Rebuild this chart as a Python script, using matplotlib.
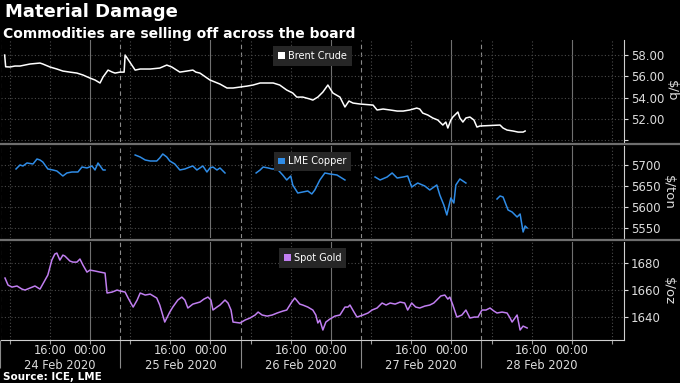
import numpy as np
import matplotlib
matplotlib.use("Agg")
import matplotlib.pyplot as plt
from matplotlib.lines import Line2D
from matplotlib.patches import Patch
import matplotlib.transforms as mtrans

# ---------------- data (hours since 24 Feb 2020 00:00) ----------------
brent_hours = [7.0, 7.2, 8.06, 9.06, 10.06, 12.05, 14.04, 14.6, 16.03, 17.4, 18.6, 20.0, 21.4,
               22.6, 24.0, 25.0, 26.0, 26.6, 27.6, 28.4, 29.0, 30.0, 30.8, 31.0, 33.0, 34.0,
               36.0, 37.9, 39.3, 40.3, 41.9, 43.3, 44.5, 45.1, 45.9, 47.9, 49.9, 51.3, 52.5,
               53.9, 55.3, 56.5, 57.9, 59.3, 60.5, 61.8, 63.2, 64.4, 65.2, 66.4, 67.8, 68.4,
               69.4, 70.4, 71.4, 72.4, 73.8, 74.8, 75.6, 76.4, 77.8, 80.4, 81.2, 82.4, 83.8,
               85.2, 86.4, 87.7, 89.1, 89.7, 90.3, 91.3, 92.3, 93.3, 94.3, 94.9, 95.3, 95.9,
               96.3, 96.9, 97.3, 97.7, 98.3, 98.9, 99.7, 100.5, 101.1, 101.7, 105.7, 106.3,
               107.1, 108.3, 109.3, 110.3, 110.7]
brent_price = [58.00, 56.90, 56.88, 56.97, 56.97, 57.16, 57.25, 57.16, 56.88, 56.69, 56.50, 56.40,
               56.31, 56.13, 55.84, 55.66, 55.38, 55.94, 56.59, 56.41, 56.31, 56.40, 56.40, 58.00,
               56.59, 56.69, 56.69, 56.78, 57.06, 56.88, 56.40, 56.50, 56.59, 56.40, 56.31, 55.66,
               55.28, 54.91, 54.91, 55.00, 55.09, 55.19, 55.38, 55.38, 55.38, 55.19, 54.72, 54.44,
               54.06, 54.06, 53.88, 53.78, 54.06, 54.53, 55.19, 54.44, 54.06, 53.13, 53.69, 53.50,
               53.41, 53.31, 52.85, 52.94, 52.85, 52.75, 52.75, 52.85, 53.03, 52.94, 52.56, 52.38,
               52.10, 51.91, 51.44, 51.72, 51.16, 51.91, 52.19, 52.47, 52.66, 52.10, 51.72, 52.10,
               52.19, 51.91, 51.25, 51.35, 51.44, 51.16, 50.97, 50.88, 50.78, 50.78, 50.88]

nan = float("nan")
copper_hours = [9.26, 10.06, 10.65, 11.45, 12.65, 13.44, 14.04, 14.6, 15.6, 16.6, 17.4, 18.6, 19.4,
                20.4, 21.6, 22.4, 23.4, 24.4, 25.0, 25.6, 26.6, 27.0, 30.0,
                33.0, 34.0, 35.0, 36.0, 37.3, 37.9, 38.5, 39.3, 39.9, 40.9, 41.9, 42.9, 43.9,
                44.5, 45.3, 45.9, 46.5, 47.3, 47.9, 48.5, 49.3, 49.9, 50.9, 54.0,
                57.1, 57.9, 58.5, 59.5, 60.3, 61.3, 62.4, 63.2, 64.0, 64.4, 65.4, 66.4, 67.4,
                68.2, 68.8, 69.8, 70.8, 71.8, 73.2, 74.8, 78.0,
                80.8, 81.8, 83.2, 84.2, 85.2, 86.4, 87.3, 88.1, 89.3, 90.7, 91.7, 93.1, 93.7,
                94.5, 95.1, 95.9, 96.5, 96.9, 97.7, 98.3, 98.9, 102.0,
                105.1, 105.7, 106.3, 107.3, 108.1, 109.1, 109.7, 110.3, 110.7, 111.1]
copper_price = [5690.5, 5700.0, 5697.6, 5704.8, 5702.4, 5714.3, 5711.9, 5707.1, 5690.5, 5688.1,
                5685.7, 5673.8, 5681.0, 5683.3, 5683.3, 5695.2, 5692.9, 5697.6, 5688.1, 5704.8,
                5688.1, 5688.1, nan,
                5723.8, 5719.0, 5711.9, 5709.5, 5709.5, 5716.7, 5726.2, 5719.0, 5709.5, 5702.4,
                5688.1, 5690.5, 5695.2, 5697.6, 5688.1, 5692.9, 5697.6, 5683.3, 5692.9, 5695.2,
                5688.1, 5692.9, 5681.0, nan,
                5681.0, 5688.1, 5695.2, 5692.9, 5690.5, 5690.5, 5676.2, 5664.3, 5673.8, 5652.4,
                5633.3, 5635.7, 5638.1, 5631.0, 5640.5, 5664.3, 5681.0, 5678.6, 5676.2, 5664.3, nan,
                5671.4, 5664.3, 5671.4, 5681.0, 5669.0, 5671.4, 5673.8, 5647.6, 5657.1, 5650.0,
                5640.5, 5652.4, 5628.6, 5604.8, 5581.0, 5621.4, 5609.5, 5652.4, 5666.7, 5661.9,
                5657.1, nan,
                5619.0, 5626.2, 5623.8, 5592.9, 5588.1, 5576.2, 5583.3, 5540.5, 5554.8, 5550.0]

gold_hours = [7.07, 7.67, 8.46, 9.46, 10.45, 11.05, 12.05, 13.04, 14.04, 15.04, 15.6, 16.4, 17.0,
              17.4, 18.0, 18.6, 19.0, 20.0, 20.6, 21.4, 22.0, 22.6, 23.4, 24.0, 25.0, 26.0, 27.0,
              27.4, 28.4, 29.4, 30.0, 31.0, 31.6, 32.6, 33.4, 34.0, 35.0, 36.0, 37.3, 37.9, 38.9,
              39.9, 40.5, 41.5, 42.3, 42.9, 43.5, 44.5, 45.9, 46.7, 47.5, 48.1, 48.5, 49.3, 49.9,
              50.9, 51.5, 52.1, 52.5, 53.9, 54.9, 55.9, 56.9, 57.5, 58.3, 59.3, 60.3, 61.3, 62.4,
              63.2, 64.2, 64.8, 65.8, 66.4, 67.4, 68.4, 69.0, 69.4, 69.8, 70.4, 71.0, 71.8, 72.8,
              73.8, 74.8, 75.4, 75.8, 76.6, 77.2, 78.4, 79.4, 80.2, 81.2, 82.2, 83.0, 83.8, 84.8,
              85.8, 86.7, 87.3, 88.1, 88.9, 89.7, 90.7, 91.7, 92.5, 93.1, 93.9, 94.7, 95.3, 95.7,
              96.3, 97.1, 98.1, 98.9, 99.7, 100.6, 101.3, 102.1, 102.9, 103.7, 104.5, 105.1, 106.1,
              107.1, 107.7, 108.1, 109.1, 109.7, 110.3, 111.1]
gold_price = [1668.9, 1663.7, 1662.2, 1663.0, 1660.7, 1660.0, 1661.5, 1663.0, 1660.7, 1667.4, 1671.1,
              1682.2, 1686.7, 1687.4, 1682.2, 1685.9, 1685.2, 1681.5, 1680.7, 1680.7, 1683.0, 1678.5,
              1673.3, 1674.8, 1674.1, 1673.3, 1672.6, 1657.8, 1658.5, 1660.0, 1659.3, 1658.5, 1654.1,
              1647.4, 1652.6, 1657.8, 1656.3, 1657.0, 1654.1, 1648.9, 1636.3, 1643.7, 1647.4, 1652.6,
              1654.8, 1652.6, 1646.7, 1649.6, 1651.1, 1653.3, 1654.8, 1652.6, 1645.2, 1647.4, 1648.9,
              1652.6, 1650.4, 1645.2, 1636.3, 1635.6, 1637.8, 1639.3, 1641.5, 1643.7, 1641.5, 1640.7,
              1641.5, 1643.0, 1644.4, 1645.2, 1651.1, 1654.1, 1649.6, 1648.9, 1647.4, 1645.2, 1641.5,
              1635.6, 1637.8, 1630.4, 1636.3, 1638.5, 1640.7, 1641.5, 1647.4, 1647.4, 1648.9, 1643.7,
              1640.0, 1641.5, 1643.0, 1645.2, 1646.7, 1650.4, 1648.9, 1650.4, 1649.6, 1651.1, 1650.4,
              1645.2, 1650.4, 1647.4, 1646.7, 1648.1, 1648.9, 1650.4, 1652.6, 1655.6, 1656.3, 1653.3,
              1654.8, 1648.9, 1640.0, 1641.5, 1645.2, 1639.3, 1640.0, 1640.0, 1645.2, 1645.2, 1646.7,
              1644.4, 1643.0, 1643.7, 1643.0, 1639.3, 1636.3, 1641.5, 1630.4, 1633.3, 1631.9]

series_names = ["Brent Crude", "LME Copper", "Spot Gold"]
series_units = ["$/b", "$/ton", "$/oz"]
series_colors = ["#ffffff", "#2f8ce6", "#c07ef0"]

brent_ticks = [50, 52, 54, 56, 58]
brent_ticklabels = ["", "52.00", "54.00", "56.00", "58.00"]
copper_ticks = [5550, 5600, 5650, 5700]
gold_ticks = [1640, 1660, 1680]

time_ticks = [8, 16, 24, 32, 40, 48, 56, 64, 72, 80, 88, 96, 104, 112, 120, 128]
time_ticklabels = ["", "16:00", "00:00", "", "16:00", "00:00", "", "16:00", "00:00", "",
                   "16:00", "00:00", "", "16:00", "00:00", ""]
midnights = [24, 48, 72, 96, 120]
day_separators = [6, 30, 54, 78, 102]
minor_grid = [8, 16, 32, 40, 56, 64, 80, 88, 104, 112, 128]
day_centers = [18, 42, 66, 90, 114]
day_labels = ["24 Feb 2020", "25 Feb 2020", "26 Feb 2020", "27 Feb 2020", "28 Feb 2020"]

xlim = (6.27, 130.4)
ylims = [(49.85, 59.41), (5526.2, 5745.2), (1623.0, 1695.6)]

# ---------------- figure ----------------
W, H = 680, 383
fig = plt.figure(figsize=(6.8, 3.83), dpi=100, facecolor="black")
txt = "#dcdcdc"

rects = [(1, 40, 142), (1, 146, 238), (1, 242, 340)]
axes = []
for (x0, ytop, ybot) in rects:
    ax = fig.add_axes([x0 / W, 1 - ybot / H, (624 - x0) / W, (ybot - ytop) / H])
    ax.set_facecolor("black")
    axes.append(ax)

data = [(brent_hours, brent_price), (copper_hours, copper_price), (gold_hours, gold_price)]
tick_sets = [(brent_ticks, brent_ticklabels),
             (copper_ticks, [str(t) for t in copper_ticks]),
             (gold_ticks, [str(t) for t in gold_ticks])]

for i, ax in enumerate(axes):
    hx, py = data[i]
    # vertical grid
    for m in midnights:
        ax.axvline(m, color="#707070", lw=0.8, zorder=1)
    for d in day_separators:
        ax.axvline(d, color="#8a8a8a", lw=0.8, ls=(0, (4, 3)), zorder=1)
    for g in minor_grid:
        ax.axvline(g, color="#4a4a4a", lw=0.8, ls=(0, (1, 2)), zorder=1)
    ticks, labels = tick_sets[i]
    for t in ticks:
        ax.axhline(t, color="#4a4a4a", lw=0.8, ls=(0, (1, 2)), zorder=1)

    ax.plot(hx, py, color=series_colors[i], lw=1.1, zorder=3)
    ax.set_xlim(*xlim)
    ax.set_ylim(*ylims[i])

    ax.yaxis.tick_right()
    ax.yaxis.set_label_position("right")
    ax.set_yticks(ticks)
    ax.set_yticklabels(labels)
    ax.tick_params(axis="y", colors=txt, labelcolor=txt, labelsize=8.5, length=3,
                   width=0.8, pad=2, direction="out")
    ax.set_ylabel(series_units[i], color=txt, fontsize=9.5, rotation=270, labelpad=10)

    for s in ["left", "top"]:
        ax.spines[s].set_visible(False)
    ax.spines["right"].set_color("#cfcfcf")
    ax.spines["right"].set_linewidth(0.8)
    if i < 2:
        ax.spines["bottom"].set_visible(False)
        ax.set_xticks([])
    else:
        ax.spines["bottom"].set_color("#cfcfcf")
        ax.spines["bottom"].set_linewidth(0.8)

    leg = ax.legend(handles=[Patch(facecolor=series_colors[i], edgecolor="none", label=series_names[i])],
                    loc="upper center", bbox_to_anchor=(0.5, 0.94), frameon=True, fontsize=7,
                    handlelength=0.7, handleheight=0.7, handletextpad=0.3, borderpad=0.5,
                    borderaxespad=0, fancybox=False)
    leg.get_frame().set_facecolor("#262626")
    leg.get_frame().set_edgecolor("none")
    leg.get_frame().set_alpha(1)
    for t in leg.get_texts():
        t.set_color("#ffffff")
    leg.set_zorder(5)

axb = axes[2]
axb.set_xticks(time_ticks)
axb.set_xticklabels(time_ticklabels)
axb.set_xticks(day_centers, minor=True)
axb.set_xticklabels(day_labels, minor=True)
axb.tick_params(axis="x", which="major", colors="#9a9a9a", labelcolor=txt, labelsize=8.3,
                length=3, width=0.8, pad=0)
axb.tick_params(axis="x", which="minor", length=0, labelcolor=txt, labelsize=8.3, pad=13.5)

# day separators extending below the axis
trans = mtrans.blended_transform_factory(axb.transData, axb.transAxes)
axb.vlines(day_separators, -0.29, 0, transform=trans, colors="#8a8a8a", lw=0.8, clip_on=False)

# panel separators
for ysep in [144, 240]:
    fig.add_artist(Line2D([0, 1], [1 - ysep / H, 1 - ysep / H], transform=fig.transFigure,
                          color="#6e6e6e", lw=1.6))

fig.text(5 / W, 1 - 3 / H, "Material Damage", color="white", fontsize=13, fontweight="bold",
         va="top", ha="left")
fig.text(3 / W, 1 - 34 / H, "Commodities are selling off across the board", color="white",
         fontsize=10, fontweight="bold", va="center", ha="left")
fig.text(3 / W, 1 - 377 / H, "Source: ICE, LME", color="white", fontsize=7.5, fontweight="bold",
         va="center", ha="left")

fig.savefig("out.png", dpi=100, facecolor="black")
